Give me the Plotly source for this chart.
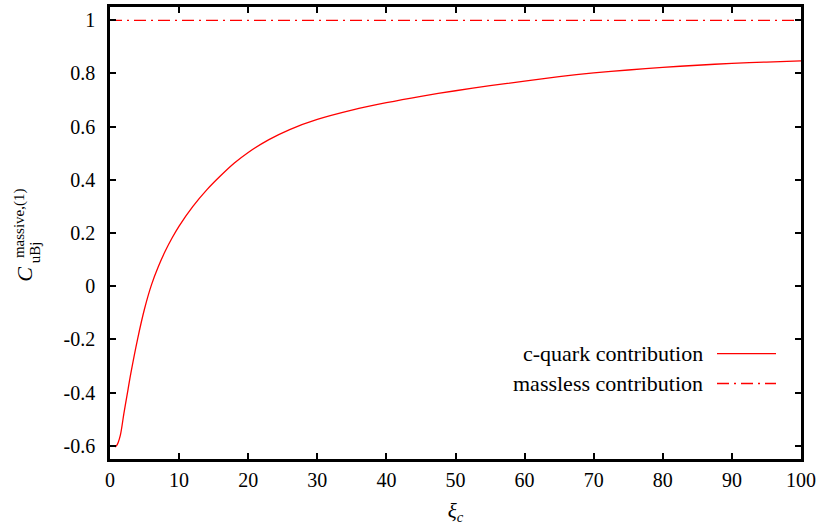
import plotly.graph_objects as go

# ---- data ----
xi_c = [0.7, 1.0, 1.5, 2.0, 2.5, 3.0, 4.0, 5.0, 6.0, 7.0, 8.0, 9.0, 10.0, 12.0, 14.0,
        16.0, 18.0, 20.0, 23.0, 26.0, 30.0, 35.0, 40.0, 45.0, 50.0, 55.0, 60.0, 65.0,
        70.0, 75.0, 80.0, 85.0, 90.0, 95.0, 100.0]
c_quark = [-0.605, -0.598, -0.560, -0.480, -0.405, -0.330, -0.198, -0.085, 0.005, 0.074,
           0.132, 0.182, 0.226, 0.300, 0.362, 0.415, 0.463, 0.503, 0.551, 0.589, 0.627,
           0.662, 0.690, 0.714, 0.735, 0.754, 0.771, 0.788, 0.802, 0.813, 0.823, 0.831,
           0.838, 0.843, 0.847]
massless_x = [0.0, 100.0]
massless_y = [1.0, 1.0]
x_ticks = [0, 10, 20, 30, 40, 50, 60, 70, 80, 90, 100]
y_ticks = [-0.6, -0.4, -0.2, 0, 0.2, 0.4, 0.6, 0.8, 1]
y_tick_text = ["-0.6", "-0.4", "-0.2", "0", "0.2", "0.4", "0.6", "0.8", "1"]
legend_names = ["c-quark contribution", "massless contribution"]

FONT = "Liberation Serif"
W, H = 825, 529
L, R, T, B = 110, 24, 4, 70
PW, PH = W - L - R, H - T - B
DASHDOT = "12px,5px,2px,5px"


def px(x):
    return (x - L) / PW


def py(y):
    return (H - B - y) / PH


fig = go.Figure()
fig.add_trace(go.Scatter(x=xi_c, y=c_quark, mode="lines", name=legend_names[0],
                         line=dict(color="#ff0000", width=1.3, shape="spline", smoothing=0.8)))
fig.add_trace(go.Scatter(x=massless_x, y=massless_y, mode="lines", name=legend_names[1],
                         line=dict(color="#ff0000", width=1.3, dash=DASHDOT)))

axis_common = dict(showline=True, linecolor="black", linewidth=2.5, mirror="allticks",
                   ticks="inside", ticklen=6, tickwidth=2, tickcolor="black",
                   showgrid=False, zeroline=False,
                   tickfont=dict(family=FONT, size=20, color="black"))

fig.update_xaxes(range=[0, 100], tickvals=x_ticks, ticklabelstandoff=1,
                 title=dict(text="<i>ξ</i><sub><i>c</i></sub>",
                            font=dict(family=FONT, size=21, color="black"), standoff=14),
                 **axis_common)
fig.update_yaxes(range=[-0.65, 1.05], tickvals=y_ticks, ticktext=y_tick_text,
                 ticklabelstandoff=8, **axis_common)

annotations = []
# y-axis title built from pieces (C with stacked super/subscript)
annotations.append(dict(x=px(10), y=py(273), xref="paper", yref="paper", text="<i>C</i>",
                        showarrow=False, textangle=-90,
                        font=dict(family=FONT, size=22, color="black")))
annotations.append(dict(x=px(9), y=py(222), xref="paper", yref="paper", text="massive,(1)",
                        showarrow=False, textangle=-90,
                        font=dict(family=FONT, size=15, color="black")))
annotations.append(dict(x=px(25), y=py(251), xref="paper", yref="paper", text="uBj",
                        showarrow=False, textangle=-90,
                        font=dict(family=FONT, size=15, color="black")))

# legend (gnuplot style: text left of sample)
shapes = []
for i, (name, ypix) in enumerate(zip(legend_names, [353, 383])):
    annotations.append(dict(x=px(705), y=py(ypix), xref="paper", yref="paper", text=name,
                            showarrow=False, xanchor="right", yanchor="middle",
                            font=dict(family=FONT, size=22, color="black")))
    shapes.append(dict(type="line", xref="paper", yref="paper",
                       x0=px(717), x1=px(776), y0=py(ypix), y1=py(ypix),
                       line=dict(color="#ff0000", width=1.3,
                                 dash="solid" if i == 0 else DASHDOT)))

fig.update_layout(width=W, height=H, margin=dict(l=L, r=R, t=T, b=B),
                  paper_bgcolor="white", plot_bgcolor="white", showlegend=False,
                  annotations=annotations, shapes=shapes,
                  font=dict(family=FONT, color="black"))

fig.write_html("out.html")
